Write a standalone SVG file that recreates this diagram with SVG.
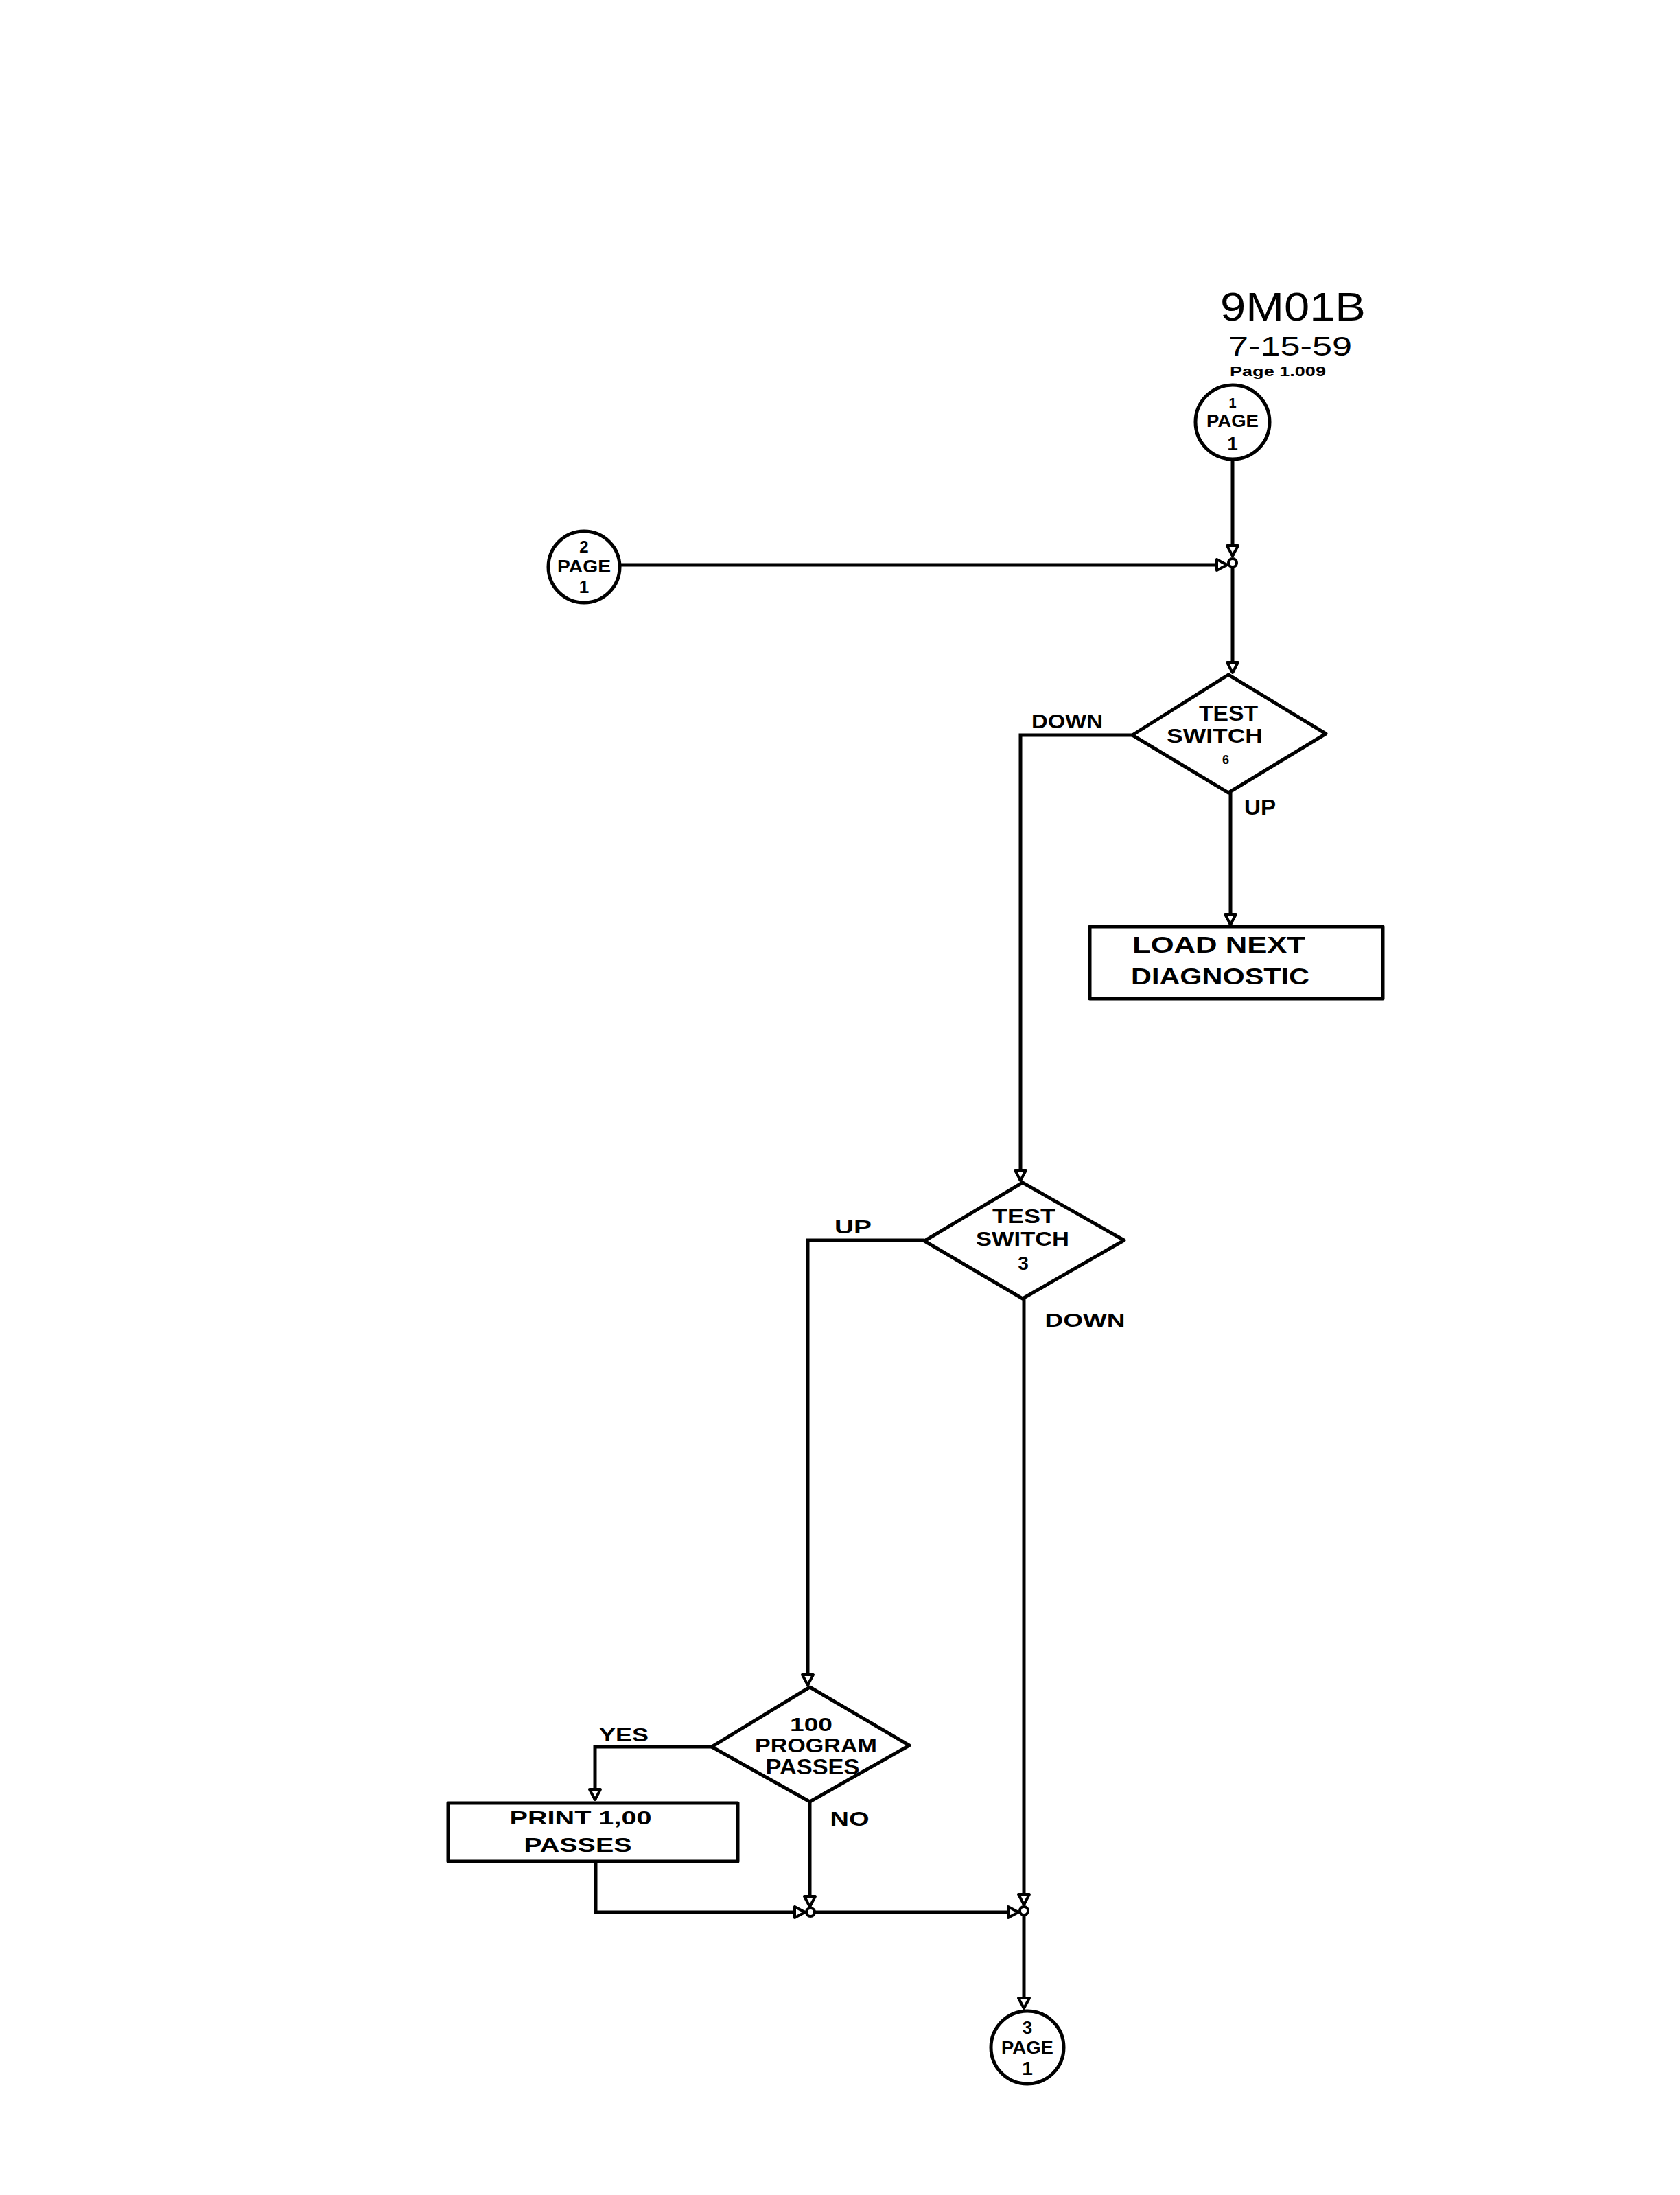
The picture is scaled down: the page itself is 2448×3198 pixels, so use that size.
<svg xmlns="http://www.w3.org/2000/svg" width="2448" height="3198" viewBox="0 0 2448 3198">
  <defs>
    <marker id="arrow" markerUnits="userSpaceOnUse" markerWidth="24" markerHeight="24" viewBox="-20 -12 24 24" refX="0" refY="0" orient="auto">
      <path d="M0,0 L-15,-8 L-15,8 Z" fill="#fff" stroke="#000" stroke-width="4" stroke-linejoin="round"/>
    </marker>
  </defs>
  <style>
    .bg { fill: #fff; }
    .shape { fill: #fff; stroke: #000; stroke-width: 5; stroke-linejoin: round; }
    .conn { fill: none; stroke: #000; stroke-width: 5; stroke-linejoin: miter; }
    .junc { fill: #fff; stroke: #000; stroke-width: 4; }
    .lbl { font-family: "Liberation Sans", Arial, sans-serif; font-weight: bold; fill: #000; text-anchor: middle; }
    .title { font-family: "Liberation Sans", Arial, sans-serif; fill: #000; text-anchor: middle; }
  </style>
  <rect class="bg" x="0" y="0" width="2448" height="3198"/>

  <!-- sheet heading -->
  <g id="heading">
    <text class="title" x="1884" y="467" font-size="58" textLength="212" lengthAdjust="spacingAndGlyphs">9M01B</text>
    <text class="title" x="1880" y="518" font-size="38" textLength="180" lengthAdjust="spacingAndGlyphs">7-15-59</text>
    <text class="title" x="1862" y="548" font-size="20" font-weight="bold" textLength="140" lengthAdjust="spacingAndGlyphs">Page 1.009</text>
  </g>

  <!-- connectors -->
  <g id="connectors">
    <path class="conn" d="M1796 670 V810" marker-end="url(#arrow)"/>
    <path class="conn" d="M903 823 H1788" marker-end="url(#arrow)"/>
    <path class="conn" d="M1796 827 V980" marker-end="url(#arrow)"/>
    <path class="conn" d="M1793 1155 V1347" marker-end="url(#arrow)"/>
    <path class="conn" d="M1650 1071 H1487 V1720" marker-end="url(#arrow)"/>
    <path class="conn" d="M1347 1807 H1177 V2455" marker-end="url(#arrow)"/>
    <path class="conn" d="M1492 1892 V2775" marker-end="url(#arrow)"/>
    <path class="conn" d="M1037 2545 H867 V2622" marker-end="url(#arrow)"/>
    <path class="conn" d="M1180 2625 V2778" marker-end="url(#arrow)"/>
    <path class="conn" d="M868 2712 V2786 H1173" marker-end="url(#arrow)"/>
    <path class="conn" d="M1187 2786 H1484" marker-end="url(#arrow)"/>
    <path class="conn" d="M1492 2791 V2926" marker-end="url(#arrow)"/>
    <circle class="junc" cx="1796" cy="820" r="6"/>
    <circle class="junc" cx="1181" cy="2786" r="6"/>
    <circle class="junc" cx="1492" cy="2784" r="6"/>
    <text class="lbl" x="1555" y="1061" font-size="29" textLength="104" lengthAdjust="spacingAndGlyphs">DOWN</text>
    <text class="lbl" x="1836" y="1187" font-size="32" textLength="46" lengthAdjust="spacingAndGlyphs">UP</text>
    <text class="lbl" x="1243" y="1797" font-size="28" textLength="54" lengthAdjust="spacingAndGlyphs">UP</text>
    <text class="lbl" x="1581" y="1933" font-size="28" textLength="117" lengthAdjust="spacingAndGlyphs">DOWN</text>
    <text class="lbl" x="909" y="2537" font-size="28" textLength="72" lengthAdjust="spacingAndGlyphs">YES</text>
    <text class="lbl" x="1238" y="2660" font-size="30" textLength="57" lengthAdjust="spacingAndGlyphs">NO</text>
  </g>

  <!-- off-page connector 1 PAGE 1 -->
  <g id="conn-1-page-1">
    <circle class="shape" cx="1796" cy="615" r="54"/>
    <text class="lbl" x="1796" y="594" font-size="20" font-weight="normal">1</text>
    <text class="lbl" x="1796" y="622" font-size="26" font-weight="normal" textLength="76" lengthAdjust="spacingAndGlyphs">PAGE</text>
    <text class="lbl" x="1796" y="656" font-size="28" font-weight="normal">1</text>
  </g>

  <!-- off-page connector 2 PAGE 1 -->
  <g id="conn-2-page-1">
    <circle class="shape" cx="851" cy="826" r="52"/>
    <text class="lbl" x="851" y="805" font-size="24">2</text>
    <text class="lbl" x="851" y="834" font-size="26" textLength="78" lengthAdjust="spacingAndGlyphs">PAGE</text>
    <text class="lbl" x="851" y="864" font-size="26" font-weight="normal">1</text>
  </g>

  <!-- decision: test switch 6 -->
  <g id="test-switch-6">
    <polygon class="shape" points="1790,983 1932,1069 1790,1155 1650,1071"/>
    <text class="lbl" x="1790" y="1050" font-size="31" textLength="86" lengthAdjust="spacingAndGlyphs">TEST</text>
    <text class="lbl" x="1770" y="1082" font-size="30" textLength="140" lengthAdjust="spacingAndGlyphs">SWITCH</text>
    <text class="lbl" x="1786" y="1113" font-size="18">6</text>
  </g>

  <!-- process: load next diagnostic -->
  <g id="load-next-diagnostic">
    <rect class="shape" x="1588" y="1350" width="427" height="105"/>
    <text class="lbl" x="1776" y="1388" font-size="33" textLength="252" lengthAdjust="spacingAndGlyphs">LOAD NEXT</text>
    <text class="lbl" x="1778" y="1434" font-size="33" textLength="260" lengthAdjust="spacingAndGlyphs">DIAGNOSTIC</text>
  </g>

  <!-- decision: test switch 3 -->
  <g id="test-switch-3">
    <polygon class="shape" points="1490,1723 1638,1807 1490,1892 1347,1808"/>
    <text class="lbl" x="1492" y="1782" font-size="30" textLength="92" lengthAdjust="spacingAndGlyphs">TEST</text>
    <text class="lbl" x="1490" y="1815" font-size="29" textLength="136" lengthAdjust="spacingAndGlyphs">SWITCH</text>
    <text class="lbl" x="1491" y="1850" font-size="28">3</text>
  </g>

  <!-- decision: 100 program passes -->
  <g id="program-passes-100">
    <polygon class="shape" points="1180,2458 1325,2543 1180,2625 1037,2545"/>
    <text class="lbl" x="1182" y="2522" font-size="27" font-weight="normal" textLength="62" lengthAdjust="spacingAndGlyphs">100</text>
    <text class="lbl" x="1189" y="2553" font-size="29" textLength="178" lengthAdjust="spacingAndGlyphs">PROGRAM</text>
    <text class="lbl" x="1184" y="2585" font-size="31" textLength="137" lengthAdjust="spacingAndGlyphs">PASSES</text>
  </g>

  <!-- process: print 100 passes -->
  <g id="print-100-passes">
    <rect class="shape" x="653" y="2627" width="422" height="85"/>
    <text class="lbl" x="846" y="2658" font-size="27" textLength="207" lengthAdjust="spacingAndGlyphs">PRINT 1,00</text>
    <text class="lbl" x="842" y="2698" font-size="29" textLength="157" lengthAdjust="spacingAndGlyphs">PASSES</text>
  </g>

  <!-- off-page connector 3 PAGE 1 -->
  <g id="conn-3-page-1">
    <circle class="shape" cx="1497" cy="2983" r="53"/>
    <text class="lbl" x="1497" y="2963" font-size="26" font-weight="normal">3</text>
    <text class="lbl" x="1497" y="2992" font-size="26" font-weight="normal" textLength="76" lengthAdjust="spacingAndGlyphs">PAGE</text>
    <text class="lbl" x="1497" y="3023" font-size="28" font-weight="normal">1</text>
  </g>
</svg>
